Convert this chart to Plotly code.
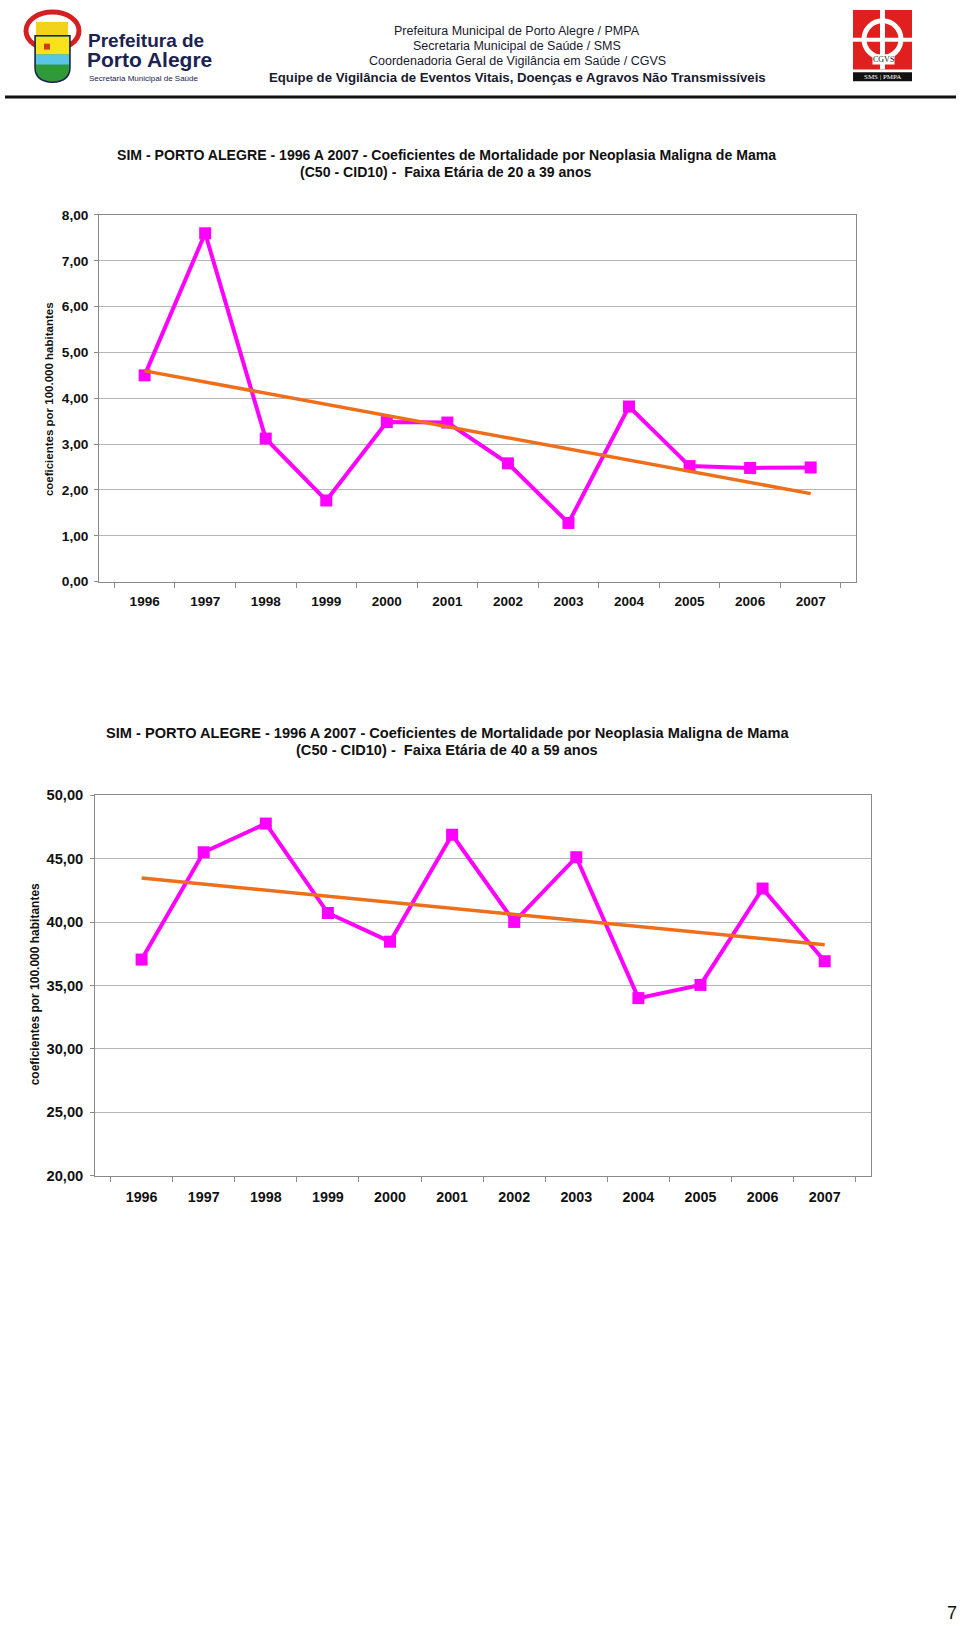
import numpy as np
import plotly.graph_objects as go

W, H = 960, 1628

years = ["1996", "1997", "1998", "1999", "2000", "2001",
         "2002", "2003", "2004", "2005", "2006", "2007"]
rate_20_39 = [4.50, 7.60, 3.12, 1.77, 3.48, 3.47, 2.58, 1.28, 3.82, 2.52, 2.48, 2.49]
rate_40_59 = [37.04, 45.50, 47.76, 40.71, 38.45, 46.88, 40.01, 45.11, 34.00, 35.04, 42.64, 36.91]

title_20_39 = ["SIM - PORTO ALEGRE - 1996 A 2007 - Coeficientes de Mortalidade por Neoplasia Maligna de Mama",
               "(C50 - CID10) -  Faixa Etária de 20 a 39 anos"]
title_40_59 = ["SIM - PORTO ALEGRE - 1996 A 2007 - Coeficientes de Mortalidade por Neoplasia Maligna de Mama",
               "(C50 - CID10) -  Faixa Etária de 40 a 59 anos"]
y_title = "coeficientes por 100.000 habitantes"
header_lines = ["Prefeitura Municipal de Porto Alegre / PMPA",
                "Secretaria Municipal de Saúde / SMS",
                "Coordenadoria Geral de Vigilância em Saúde / CGVS",
                "Equipe de Vigilância de Eventos Vitais, Doenças e Agravos Não Transmissíveis"]


def px(x):
    return x / W


def py(y):
    return 1 - y / H


def trend(vals):
    idx = np.arange(len(vals))
    a, b = np.polyfit(idx, vals, 1)
    return list(a * idx + b)


FONT = "Liberation Sans, Arial, sans-serif"
MAG = "#FF00FF"
ORANGE = "#EE6E1A"

fig = go.Figure()

for k, (vals, xa, ya) in enumerate([(rate_20_39, "x", "y"), (rate_40_59, "x2", "y2")]):
    fig.add_trace(go.Scatter(x=years, y=vals, mode="lines+markers", xaxis=xa, yaxis=ya,
                             line=dict(color=MAG, width=4),
                             marker=dict(symbol="square", size=12, color=MAG),
                             showlegend=False, cliponaxis=False))
    fig.add_trace(go.Scatter(x=years, y=trend(vals), mode="lines", xaxis=xa, yaxis=ya,
                             line=dict(color=ORANGE, width=3.5),
                             showlegend=False))

axis_common = dict(showline=True, linecolor="#8a8a8a", linewidth=1.2, mirror=True,
                   ticks="outside", tickcolor="#8a8a8a")

fig.update_layout(
    width=W, height=H, margin=dict(l=0, r=0, t=0, b=0),
    paper_bgcolor="white", plot_bgcolor="white",
    separators=",.", showlegend=False,
    xaxis=dict(domain=[px(99.3), px(856)], type="category", tickson="boundaries",
               ticklen=5, showgrid=False, anchor="y", ticklabelstandoff=7,
               tickfont=dict(family=FONT, size=13.5, color="#111", weight="bold"), **axis_common),
    yaxis=dict(domain=[py(579.3), py(209)], range=[0, 8], dtick=1, tickformat=".2f",
               ticklen=4, showgrid=True, gridcolor="#b5b5b5", gridwidth=1, anchor="x",
               ticklabelstandoff=3, zeroline=False,
               tickfont=dict(family=FONT, size=13.7, color="#111", weight="bold"), **axis_common),
    xaxis2=dict(domain=[px(95.3), px(871)], type="category", tickson="boundaries",
                ticklen=5, showgrid=False, anchor="y2", ticklabelstandoff=8,
                tickfont=dict(family=FONT, size=14.3, color="#111", weight="bold"), **axis_common),
    yaxis2=dict(domain=[py(1179.3), py(795)], range=[20, 50], dtick=5, tickformat=".2f",
                ticklen=4, showgrid=True, gridcolor="#b5b5b5", gridwidth=1, anchor="x2",
                ticklabelstandoff=4, zeroline=False,
                tickfont=dict(family=FONT, size=14.7, color="#111", weight="bold"), **axis_common),
)

ann = []
# chart titles
for (lines, ys, cx, fs) in [(title_20_39, (148, 166), 446, 14.1), (title_40_59, (732, 749), 447, 14.6)]:
    for t, yy in zip(lines, ys):
        ann.append(dict(text=t, x=px(cx), y=py(yy), xref="paper", yref="paper",
                        xanchor="center", yanchor="middle", showarrow=False,
                        font=dict(family=FONT, size=fs, color="#111", weight="bold")))
# y axis titles
for (cx, cy, fs) in [(49, 395, 11.5), (35, 986, 12)]:
    ann.append(dict(text=y_title, x=px(cx), y=py(cy), xref="paper", yref="paper",
                    xanchor="center", yanchor="middle", textangle=-90, showarrow=False,
                    font=dict(family=FONT, size=fs, color="#111", weight="bold")))
# header
for i, (t, yy) in enumerate(zip(header_lines, (23, 38, 54, 70))):
    ann.append(dict(text=t, x=px(517), y=py(yy), xref="paper", yref="paper",
                    xanchor="center", yanchor="middle", showarrow=False,
                    font=dict(family=FONT, size=12.5 if i < 3 else 13.2, color="#1a1a2e",
                              weight="bold" if i == 3 else "normal")))
# left logo text
ann.append(dict(text="Prefeitura de", x=px(86), y=py(33), xref="paper", yref="paper",
                xanchor="left", yanchor="middle", showarrow=False,
                font=dict(family=FONT, size=19, color="#1b2350", weight="bold")))
ann.append(dict(text="Porto Alegre", x=px(85), y=py(52), xref="paper", yref="paper",
                xanchor="left", yanchor="middle", showarrow=False,
                font=dict(family=FONT, size=21, color="#1b2350", weight="bold")))
ann.append(dict(text="Secretaria Municipal de Saúde", x=px(87), y=py(71), xref="paper", yref="paper",
                xanchor="left", yanchor="middle", showarrow=False,
                font=dict(family=FONT, size=8, color="#1b2350")))
# CGVS logo text
ann.append(dict(text="CGVS", x=px(883), y=py(52), xref="paper", yref="paper",
                xanchor="center", yanchor="middle", showarrow=False,
                bgcolor="white", borderpad=0,
                font=dict(family="Liberation Serif, serif", size=8, color="#222")))
ann.append(dict(text="SMS | PMPA", x=px(882.5), y=py(69.5), xref="paper", yref="paper",
                xanchor="center", yanchor="middle", showarrow=False,
                font=dict(family="Liberation Serif, serif", size=7, color="white")))
# page number
ann.append(dict(text="7", x=px(952), y=py(1621), xref="paper", yref="paper",
                xanchor="center", yanchor="middle", showarrow=False,
                font=dict(family=FONT, size=18, color="#111")))
fig.update_layout(annotations=ann)

shapes = []


def rect(x0, y0, x1, y1, fill, line=None, lw=0):
    shapes.append(dict(type="rect", xref="paper", yref="paper", x0=px(x0), x1=px(x1),
                       y0=py(y1), y1=py(y0), fillcolor=fill,
                       line=dict(color=line or fill, width=lw), layer="below"))


# header rule
shapes.append(dict(type="line", xref="paper", yref="paper", x0=px(5), x1=px(956),
                   y0=py(90), y1=py(90), line=dict(color="#111", width=3)))
# coat of arms (approximation)
shapes.append(dict(type="circle", xref="paper", yref="paper", x0=px(26), x1=px(79),
                   y0=py(42), y1=py(4), line=dict(color="#d42020", width=5), fillcolor="white",
                   layer="below"))
rect(36, 14, 68, 28, "#f3d21a")
shapes.append(dict(type="path", xref="paper", yref="paper",
                   path=f"M {px(35)},{py(28)} L {px(70)},{py(28)} L {px(70)},{py(60)} "
                        f"Q {px(70)},{py(74)} {px(52.5)},{py(75)} Q {px(35)},{py(74)} {px(35)},{py(60)} Z",
                   fillcolor="#2f9a3a", line=dict(color="#1b2350", width=1.5), layer="below"))
rect(36, 29, 69, 47, "#f7e21c")
rect(36, 47, 69, 57, "#59c6e8")
rect(44, 36, 50, 42, "#d43a1a")
# CGVS logo (approximation)
rect(853, 2, 912, 62, "#e0201e")
shapes.append(dict(type="circle", xref="paper", yref="paper", x0=px(864), x1=px(901),
                   y0=py(50), y1=py(13), line=dict(color="white", width=5), layer="below"))
rect(880, 2, 885, 62, "white")
rect(853, 30, 912, 34, "white")
rect(853, 65, 912, 74, "#111")
fig.update_layout(shapes=shapes)

fig.write_html("out.html", config={"displayModeBar": False},
               post_script="document.body.style.margin='0';document.body.style.padding='0';"
                           "document.documentElement.style.overflow='hidden';")
